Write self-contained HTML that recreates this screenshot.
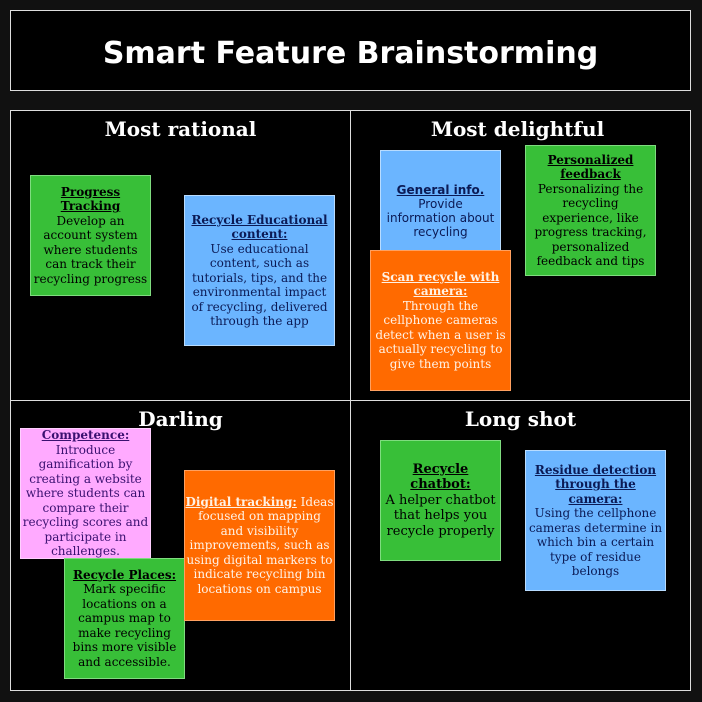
<!DOCTYPE html>
<html><head><style>
body{margin:0;background:#111;width:702px;height:702px;position:relative;overflow:hidden}
.b{position:absolute;box-sizing:border-box}
.hdr{left:10px;top:10px;width:681px;height:81px;border:1px solid #ddd;background:#000;color:#fff;font:bold 30px "DejaVu Sans","Liberation Sans",sans-serif;display:flex;align-items:center;justify-content:center;padding-top:5px}
.q{border:1px solid #ddd;background:#000;width:341px;height:291px}
.qt{position:absolute;left:0;right:0;top:6px;text-align:center;color:#fff;font:bold 20px "DejaVu Serif","Liberation Serif",serif}
.n{display:flex;align-items:center;justify-content:center;text-align:center;font:12px/14.5px "DejaVu Serif","Liberation Serif",serif;white-space:nowrap}
.n b{text-decoration:underline}
.g{background:#38bf38;border:1px solid #7fdc7f;color:#000}
.bl{background:#6bb5ff;border:1px solid #b8dcff;color:#0b1a55}
.o{background:#ff6a00;border:1px solid #ffa060;color:#fff2e6}
.p{background:#ffaaff;border:1px solid #ffd0ff;color:#3a1070}
</style></head><body>
<div class="b hdr">Smart Feature Brainstorming</div>
<div class="b q" style="left:10px;top:110px"><div class="qt">Most rational</div></div>
<div class="b q" style="left:350px;top:110px"><div class="qt" style="left:-6px">Most delightful</div></div>
<div class="b q" style="left:10px;top:400px"><div class="qt">Darling</div></div>
<div class="b q" style="left:350px;top:400px"><div class="qt">Long shot</div></div>

<div class="b n g" style="left:30px;top:175px;width:121px;height:121px"><div><b>Progress<br>Tracking</b><br>Develop an<br>account system<br>where students<br>can track their<br>recycling progress</div></div>
<div class="b n bl" style="left:184px;top:195px;width:151px;height:151px"><div><b>Recycle Educational<br>content:</b><br>Use educational<br>content, such as<br>tutorials, tips, and the<br>environmental impact<br>of recycling, delivered<br>through the app</div></div>

<div class="b n bl" style="left:380px;top:150px;width:121px;height:121px;font-family:'DejaVu Sans','Liberation Sans',sans-serif;font-size:12px;line-height:14px"><div><b>General info.</b><br>Provide<br>information about<br>recycling</div></div>
<div class="b n g" style="left:525px;top:145px;width:131px;height:131px"><div><b>Personalized<br>feedback</b><br>Personalizing the<br>recycling<br>experience, like<br>progress tracking,<br>personalized<br>feedback and tips</div></div>
<div class="b n o" style="left:370px;top:250px;width:141px;height:141px"><div><b>Scan recycle with<br>camera:</b><br>Through the<br>cellphone cameras<br>detect when a user is<br>actually recycling to<br>give them points</div></div>

<div class="b n p" style="left:20px;top:428px;width:131px;height:131px"><div><b>Competence:</b><br>Introduce<br>gamification by<br>creating a website<br>where students can<br>compare their<br>recycling scores and<br>participate in<br>challenges.</div></div>
<div class="b n g" style="left:64px;top:558px;width:121px;height:121px"><div><b>Recycle Places:</b><br>Mark specific<br>locations on a<br>campus map to<br>make recycling<br>bins more visible<br>and accessible.</div></div>
<div class="b n o" style="left:184px;top:470px;width:151px;height:151px"><div><b>Digital tracking:</b> Ideas<br>focused on mapping<br>and visibility<br>improvements, such as<br>using digital markers to<br>indicate recycling bin<br>locations on campus</div></div>

<div class="b n g" style="left:380px;top:440px;width:121px;height:121px;font-size:13px;line-height:15.5px"><div><b>Recycle<br>chatbot:</b><br>A helper chatbot<br>that helps you<br>recycle properly</div></div>
<div class="b n bl" style="left:525px;top:450px;width:141px;height:141px"><div><b>Residue detection<br>through the<br>camera:</b><br>Using the cellphone<br>cameras determine in<br>which bin a certain<br>type of residue<br>belongs</div></div>
</body></html>
